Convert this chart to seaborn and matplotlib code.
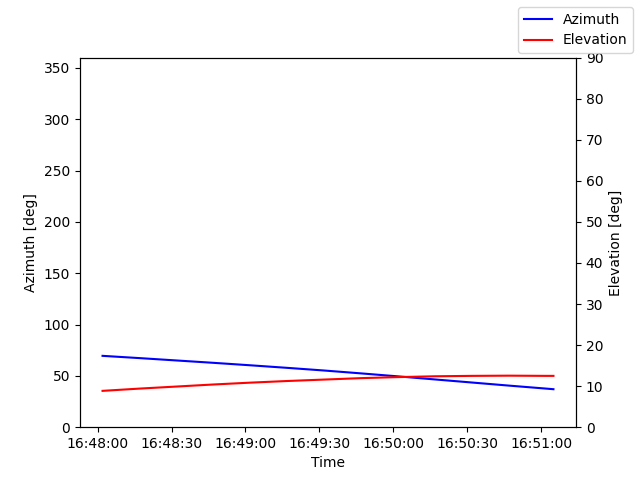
import pandas as pd
import numpy as np
import matplotlib
matplotlib.use('Agg')
import matplotlib.pyplot as plt
import matplotlib.dates as mdates
import seaborn as sns

# ===== Data =====
times = ['16:48:02', '16:48:17', '16:48:32', '16:48:47', '16:49:02', '16:49:17',
         '16:49:32', '16:49:47', '16:50:02', '16:50:17', '16:50:32', '16:50:47',
         '16:51:02', '16:51:05']
azimuth = [69.5, 67.3, 65.0, 62.7, 60.3, 57.8, 55.2, 52.4, 49.5, 46.5, 43.5, 40.5, 37.6, 37.0]
elevation = [8.85, 9.4, 9.9, 10.4, 10.85, 11.25, 11.6, 11.95, 12.2, 12.4, 12.5, 12.55, 12.5, 12.5]

track = pd.DataFrame({
    'Time': pd.to_datetime(['2024-01-01 ' + t for t in times]),
    'Azimuth': azimuth,
    'Elevation': elevation,
})

# ===== Plot =====
fig, ax = plt.subplots(figsize=(6.4, 4.8), dpi=100)
ax2 = ax.twinx()

sns.lineplot(data=track, x='Time', y='Azimuth', ax=ax, color='blue', label='Azimuth')
sns.lineplot(data=track, x='Time', y='Elevation', ax=ax2, color='red', label='Elevation')

for a in (ax, ax2):
    if a.get_legend() is not None:
        a.get_legend().remove()

ax.set_ylim(0, 360)
ax2.set_ylim(0, 90)
ax.set_xlabel('Time')
ax.set_ylabel('Azimuth [deg]')
ax2.set_ylabel('Elevation [deg]')
ax.xaxis.set_major_locator(mdates.SecondLocator(bysecond=[0, 30]))
ax.xaxis.set_major_formatter(mdates.DateFormatter('%H:%M:%S'))

h1, l1 = ax.get_legend_handles_labels()
h2, l2 = ax2.get_legend_handles_labels()
fig.legend(h1 + h2, l1 + l2, loc='upper right')

fig.savefig('out.png', dpi=100)
